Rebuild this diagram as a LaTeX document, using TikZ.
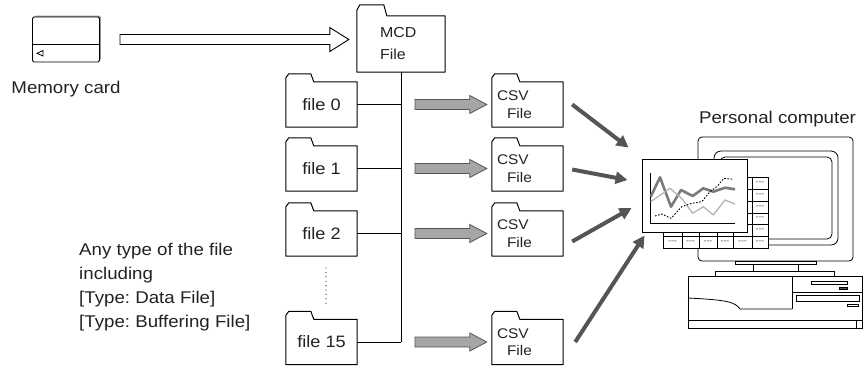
\documentclass[tikz,border=0pt]{standalone}
\usepackage{fontspec}
\setmainfont{Liberation Sans}[FakeStretch=1.1]
\usetikzlibrary{calc,arrows.meta,shadows}
\frenchspacing

\definecolor{arrowgray}{HTML}{555555}
\definecolor{blockgray}{HTML}{A6A6A6}
\definecolor{trenddark}{HTML}{7A7A7A}
\definecolor{trendlight}{HTML}{B4B4B4}
\definecolor{inkgray}{HTML}{222222}

% folder outline drawn around a body node: name, tab height, tab width
\newcommand\folderoutline[3]{%
  \draw[outline] (#1.south west) -- ([yshift=#2*0.5]#1.north west)
    -- ([shift={(3pt,#2)}]#1.north west) -- ([shift={(#3,#2)}]#1.north west)
    -- ([xshift=#3+3pt]#1.north west) -- (#1.north east) -- (#1.south east) -- cycle;}

% horizontal block arrow: style, start, tip, half shaft, half head, head length
\newcommand\blockarrow[6]{%
  \draw[#1] let \p1=(#2), \p2=(#3) in
    (\x1,\y1+#4) -- (\x2-#6,\y1+#4) -- (\x2-#6,\y1+#5) -- (\x2,\y1)
    -- (\x2-#6,\y1-#5) -- (\x2-#6,\y1-#4) -- (\x1,\y1-#4) -- cycle;}

\begin{document}
\begin{tikzpicture}[x=1pt,y=-1pt,text=inkgray,
  outline/.style={draw=black,line width=1pt,line join=round},
  thin/.style={draw=black,line width=0.8pt},
  biglabel/.style={font=\fontsize{17}{24}\selectfont,inner sep=0pt},
  smalltext/.style={font=\fontsize{14}{17.5}\selectfont},
  filebody/.style={minimum width=71pt,minimum height=45pt,inner sep=0pt,
    font=\fontsize{16.5}{20}\selectfont},
  csvbody/.style={smalltext,minimum width=71pt,minimum height=45pt,inner xsep=5pt,
    inner ysep=0pt,text width=61pt,align=left},
  mcdbody/.style={smalltext,minimum width=88pt,minimum height=56pt,inner xsep=23pt,
    inner ysep=0pt,text width=42pt,align=left,font=\fontsize{14.5}{22}\selectfont},
  card/.style={draw=black,line width=0.9pt,fill=white,minimum width=67pt,minimum height=45pt,
    rounded corners=1.5pt,
    general shadow={fill=gray!80,shadow xshift=1.3pt,shadow yshift=1.3pt}},
  hollowarrow/.style={draw=black,line width=0.9pt,fill=white,line join=miter},
  fatarrow/.style={draw=arrowgray,line width=0.8pt,fill=blockgray},
  pcarrow/.style={draw=arrowgray,line width=4pt,-{Triangle[length=12pt,width=12pt]}},
  cell/.style={draw=black,line width=0.7pt,fill=white},
  celltext/.style={font=\fontsize{8}{8}\selectfont,inner sep=0pt,text=black!70},
]
\useasboundingbox (0,0) rectangle (866,368);

% memory card
\node[card] (card) at (66,39.5) {};
\draw[thin] ([yshift=-4.5pt]card.west) -- ([yshift=-4.5pt]card.east);
\draw[thin] (43,50.5) -- (37,53.3) -- (43,56) -- cycle;
\node[biglabel,anchor=base] (cardlabel) at (66,93) {Memory card};

% MCD file
\node[mcdbody] (mcd) at (401,44) {MCD\\File};
\folderoutline{mcd}{11pt}{27pt}
\blockarrow{hollowarrow}{[xshift=20pt]card.east}{[xshift=-8pt]mcd.west}{5pt}{12pt}{19pt}

% source files
\node[filebody] (file0) at (321.5,104.5) {file 0};
\node[filebody] (file1) at (321.5,168.5) {file 1};
\node[filebody] (file2) at (321.5,233.5) {file 2};
\node[filebody] (file15) at (321.5,342) {file 15};
\foreach \f in {file0,file1,file2,file15}{\folderoutline{\f}{8pt}{25pt}}
\draw[black!80,line width=1.3pt,line cap=round,dash pattern=on 0pt off 4.4pt] (326,268) -- (326,307);

% bus from the MCD file
\draw[thin] (mcd.south) -- (mcd.south |- file15.east);
\foreach \f/\j in {file0/j0,file1/j1,file2/j2,file15/j15}{
  \coordinate (\j) at (\f.east -| mcd.south);
  \draw[thin] (\f.east) -- (\j);
}

% CSV files
\node[csvbody] (csv0) at (527.5,104.5) {CSV\\\hspace*{10pt}File};
\node[csvbody] (csv1) at (527.5,168.5) {CSV\\\hspace*{10pt}File};
\node[csvbody] (csv2) at (527.5,233.5) {CSV\\\hspace*{10pt}File};
\node[csvbody] (csv3) at (527.5,342) {CSV\\\hspace*{10pt}File};
\foreach \f in {csv0,csv1,csv2,csv3}{\folderoutline{\f}{8pt}{25pt}}

\blockarrow{fatarrow}{[xshift=14pt]j0}{[xshift=-5pt]csv0.west}{5pt}{9pt}{17pt}
\blockarrow{fatarrow}{[xshift=14pt]j1}{[xshift=-5pt]csv1.west}{5pt}{9pt}{17pt}
\blockarrow{fatarrow}{[xshift=14pt]j2}{[xshift=-5pt]csv2.west}{5pt}{9pt}{17pt}
\blockarrow{fatarrow}{[xshift=14pt]j15}{[xshift=-5pt]csv3.west}{5pt}{9pt}{17pt}

% personal computer: monitor
\node[biglabel,anchor=base] (pclabel) at (777.5,123) {Personal computer};
\draw[thin,rounded corners=4pt] (698,137) rectangle (853,261);
\draw[thin,rounded corners=7pt] (714,151) rectangle (838,245);
\draw[thin,rounded corners=5pt] (720,157) rectangle (832,239);
% stand
\draw[thin] (735,261) rectangle (816,264);
\draw[thin] (753,264) rectangle (798,271);
\draw[thin] (715,271) rectangle (834,276);
% system unit
\draw[thin] (688,276) rectangle (862,328);
\draw[thin] (792,276) -- (792,309);
\draw[thin] (688,298) .. controls (728,300) and (735,302) .. (740,309) -- (792,309);
\draw[thin] (688,320) -- (862,320);
\draw[thin] (856,320) rectangle (862,328);
\draw[thin] (792,292) -- (862,292);
\draw[thin] (811,281) rectangle (847,284);
\draw[thin,fill=arrowgray] (839,287) rectangle (847,289.5);
\draw[thin] (796,295) rectangle (859,301);
\draw[thin] (847,304) rectangle (858,306.5);

% spreadsheet window
\foreach \xa/\xb in {663/682,682/699,699/717,717/733,733/752,752/768}{
  \foreach \ya/\yb in {177/189,189/201,201/213,213/224,224/236,236/248}{
    \draw[cell] (\xa,\ya) rectangle (\xb,\yb);
    \node[celltext] at ({(\xa+\xb)/2},{(\ya+\yb)/2}) {-{}-{}-};
  }
}

% chart window
\node[draw=black,line width=0.9pt,fill=white,minimum width=105pt,minimum height=73pt,
  inner sep=0pt] (chart) at (694.5,195.5) {};
\draw[thin] (650,173) -- (650,223) -- (735,223);
\draw[trenddark,line width=2.6pt,line join=round]
  (650.7,196.7) -- (660,177.3) -- (671,206.7) -- (681,190) -- (692.7,196)
  -- (703.3,188.3) -- (713.3,191.7) -- (725,187.7) -- (735,189.3);
\draw[trendlight,line width=1.3pt,line join=round]
  (650.7,201.7) -- (670,188.3) -- (681.7,198.3) -- (692.7,213.3) -- (703.3,206.7)
  -- (713.3,215) -- (725,200) -- (735,204);
\draw[black,line width=0.9pt,dash pattern=on 1.6pt off 1.6pt]
  (655,216) -- (661.7,214) -- (671,218.3) -- (681.7,206.7) -- (691.7,203.3)
  -- (701.7,201.7) -- (710,191.7) -- (716.7,186.7) -- (724,178.3) -- (733.3,179.3);

% CSV files into the computer
\draw[pcarrow] ([xshift=9pt]csv0.east) -- ([shift={(-13pt,11pt)}]chart.north west);
\draw[pcarrow] ([xshift=9pt,yshift=-1pt]csv1.east) -- ([shift={(-14pt,15.5pt)}]chart.west);
\draw[pcarrow] ([xshift=9pt,yshift=-8pt]csv2.east) -- ([shift={(-10pt,-12.5pt)}]chart.west);
\draw[pcarrow] ([xshift=12pt]csv3.east) -- ([shift={(3pt,-3pt)}]chart.south west);

% note on the source files (base anchor sits on the last line)
\node[biglabel,anchor=base west,align=left,font=\fontsize{17}{23.7}\selectfont]
  (note) at (79,327) {Any type of the file\\including\\{[}Type: Data File{]}\\{[}Type: Buffering File{]}};
\end{tikzpicture}
\end{document}
